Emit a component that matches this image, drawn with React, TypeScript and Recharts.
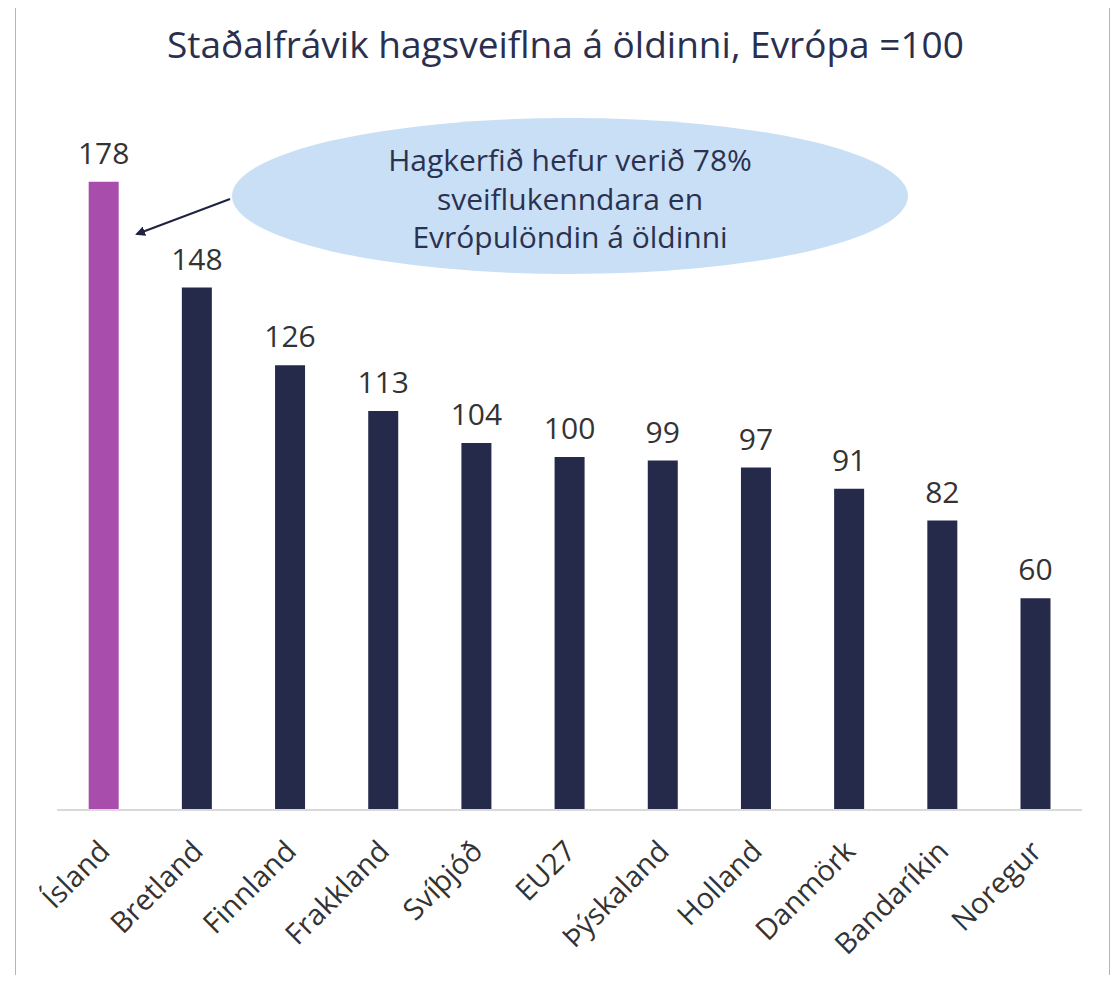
import React from 'react'
import { BarChart, Bar, XAxis, YAxis, Cell, LabelList } from 'recharts'

const countries = ['Ísland', 'Bretland', 'Finnland', 'Frakkland', 'Svíþjóð', 'EU27', 'Þýskaland', 'Holland', 'Danmörk', 'Bandaríkin', 'Noregur']
const volatility = [178, 148, 126, 113, 104, 100, 99, 97, 91, 82, 60]
const highlighted = ['Ísland']
const noteLines = ['Hagkerfið hefur verið 78%', 'sveiflukenndara en', 'Evrópulöndin á öldinni']

const data = countries.map((name, i) => ({ name, value: volatility[i] }))

const FONT = '"Open Sans", Lato, sans-serif'
const NAVY = '#252a4b'
const PURPLE = '#a84dab'

const AngledTick = (props: any) => {
  const { x, y, payload } = props
  return (
    <g transform={`translate(${x + 8},${y + 35})`}>
      <text
        textAnchor="end"
        transform="rotate(-45)"
        fill="#333"
        fontSize={29}
        fontFamily={FONT}
      >
        {payload.value}
      </text>
    </g>
  )
}

export default function App() {
  return (
    <div style={{ position: 'relative', width: 1119, height: 983, margin: -8, background: '#fff', overflow: 'hidden' }}>
      <div
        style={{
          position: 'absolute',
          left: 15,
          top: 3,
          width: 1095,
          height: 1000,
          border: '1px solid #b5b5b5',
          boxSizing: 'border-box',
        }}
      />
      <div
        style={{
          position: 'absolute',
          top: 18,
          left: 6,
          width: 1119,
          textAlign: 'center',
          fontFamily: FONT,
          fontSize: 37,
          color: '#2a2f4f',
        }}
      >
        Staðalfrávik hagsveiflna á öldinni, Evrópa =100
      </div>
      <div style={{ position: 'absolute', left: 0, top: 0 }}>
        <BarChart
          width={1119}
          height={983}
          data={data}
          margin={{ top: 104, right: 37, left: 57, bottom: 0 }}
          barCategoryGap="34%"
        >
          <XAxis
            dataKey="name"
            interval={0}
            height={173}
            tickLine={false}
            axisLine={{ stroke: '#d9d9d9', strokeWidth: 2 }}
            tick={<AngledTick />}
          />
          <YAxis hide domain={[0, 200]} />
          <Bar dataKey="value" isAnimationActive={false}>
            {data.map((d) => (
              <Cell key={d.name} fill={highlighted.includes(d.name) ? PURPLE : NAVY} />
            ))}
            <LabelList
              dataKey="value"
              position="top"
              offset={18}
              fill="#333"
              fontSize={30}
              fontFamily={FONT}
            />
          </Bar>
        </BarChart>
      </div>
      <svg
        width={1119}
        height={983}
        style={{ position: 'absolute', left: 0, top: 0, pointerEvents: 'none' }}
      >
        <defs>
          <marker id="arrowHead" markerWidth="10" markerHeight="10" refX="8" refY="5" orient="auto" markerUnits="userSpaceOnUse">
            <path d="M0,0 L10,5 L0,10 Z" fill="#1f2340" />
          </marker>
        </defs>
        <ellipse cx={570} cy={196} rx={338} ry={78} fill="#c9dff6" />
        <line x1={230} y1={199} x2={137} y2={234} stroke="#1f2340" strokeWidth={2} markerEnd="url(#arrowHead)" />
        {noteLines.map((t, i) => (
          <text
            key={t}
            x={570}
            y={171 + i * 38.5}
            textAnchor="middle"
            fontFamily={FONT}
            fontSize={30}
            fill="#2b3250"
          >
            {t}
          </text>
        ))}
      </svg>
    </div>
  )
}
